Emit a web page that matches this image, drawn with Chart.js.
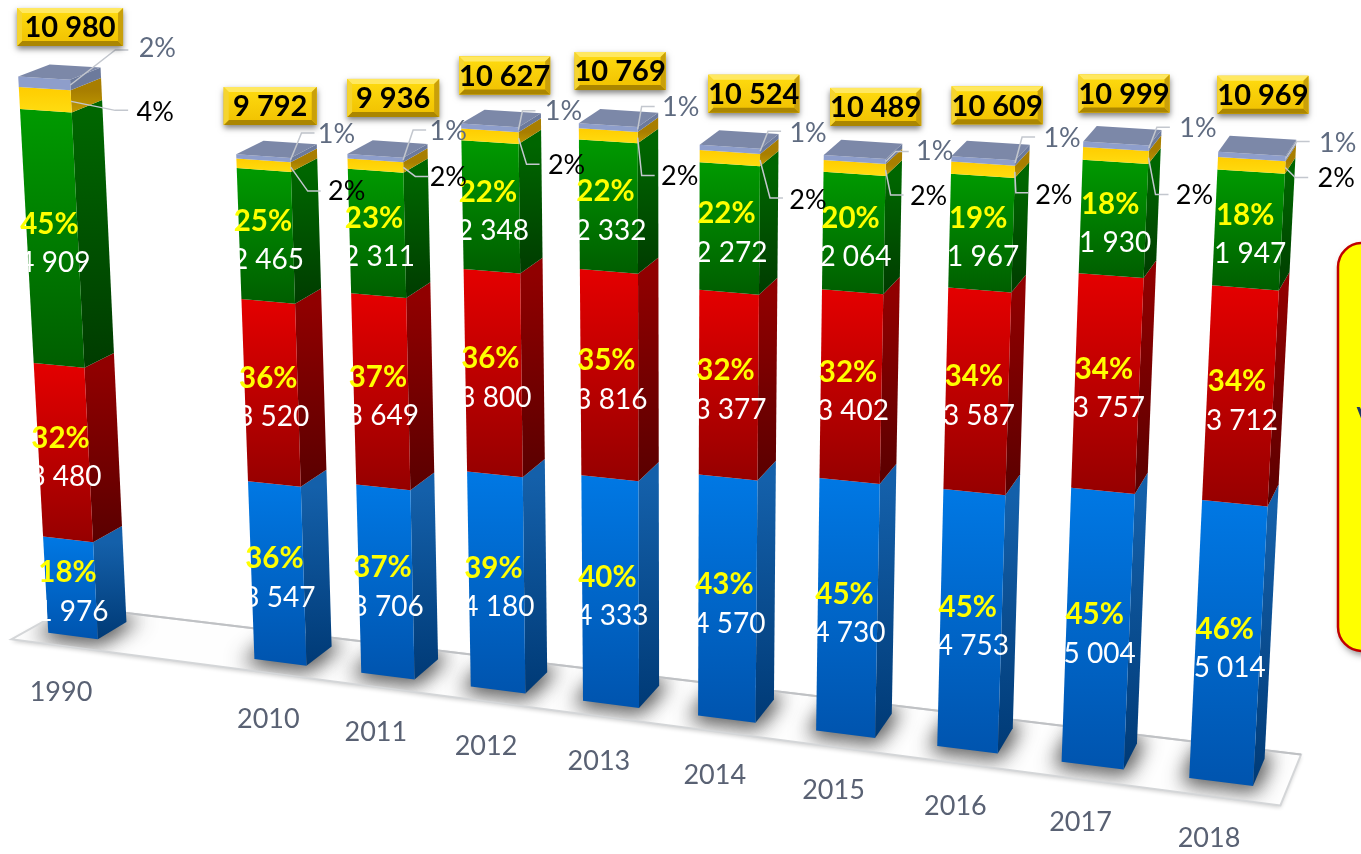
<!DOCTYPE html>
<html>
<head>
<meta charset="utf-8">
<title>Chart</title>
<script src="https://cdn.jsdelivr.net/npm/chart.js@4"></script>
<style>
  html, body { margin: 0; padding: 0; background: #fff; overflow: hidden; }
  canvas { display: block; }
</style>
</head>
<body>
<canvas id="chart" width="1361" height="854"></canvas>
<script>
'use strict';

// the empty category is the gap between 1990 and 2010
const years = ['1990', '', '2010', '2011', '2012', '2013', '2014', '2015', '2016', '2017', '2018'];

const blueValues = [1976, null, 3547, 3706, 4180, 4333, 4570, 4730, 4753, 5004, 5014];
const redValues = [3480, null, 3520, 3649, 3800, 3816, 3377, 3402, 3587, 3757, 3712];
const greenValues = [4909, null, 2465, 2311, 2348, 2332, 2272, 2064, 1967, 1930, 1947];
// not printed on the picture, estimated from the totals and the percent labels
const yellowValues = [415, null, 180, 190, 210, 200, 215, 205, 212, 216, 208];
const greyValues = [200, null, 80, 80, 89, 88, 90, 88, 90, 92, 88];
const totals = [10980, null, 9792, 9936, 10627, 10769, 10524, 10489, 10609, 10999, 10969];

const bluePct = [18, null, 36, 37, 39, 40, 43, 45, 45, 45, 46];
const redPct = [32, null, 36, 37, 36, 35, 32, 32, 34, 34, 34];
const greenPct = [45, null, 25, 23, 22, 22, 22, 20, 19, 18, 18];
const yellowPct = [4, null, 2, 2, 2, 2, 2, 2, 2, 2, 2];
const greyPct = [2, null, 1, 1, 1, 1, 1, 1, 1, 1, 1];

// hand placed label nudges, relative to the bar they belong to
const boxNudge = [[26, -51, 106], null, [7, -50, 93], [18, -58, 92], [15, -50, 91], [12, -54, 91], [24, -53, 91], [21, -50, 91], [14, -53, 91], [8, -50, 91], [11, -59, 91]];
const greyNudge = [[45, -35, 87, -37], null, [11, -27, 46, -26], [10, -30, 45, -29], [4, -19, 45, -18], [4, -23, 43, -22], [8, -20, 48, -18], [10, -10, 49, -10], [7, -26, 47, -25], [8, -21, 49, -20], [11, -17, 52, -15]];
const yellowNudge = [[44, 9, 84, 11], null, [17, 24, 56, 24], [12, 9, 45, 10], [8, 26, 48, 27], [4, 38, 42, 39], [10, 38, 48, 40], [5, 25, 43, 26], [1, 21, 39, 23], [7, 37, 46, 38], [10, 10, 51, 11]];

const FONT = 'Lato, "Open Sans", sans-serif';

// where the front of the first and last bar land on the picture (the 3D view)
const view = {
    bottomLeft: [73, 636], bottomRight: [1221, 782],
    topRight: [1252, 152], topLeft: [44, 77],
    depthBottom: [[29, -17], [12, -27]],
    depthTop: [[31, -12], [11, -16]]
};

const squareToQuad = (p0, p1, p2, p3) => {
    const dx1 = p1[0] - p2[0], dx2 = p3[0] - p2[0], sx = p0[0] - p1[0] + p2[0] - p3[0];
    const dy1 = p1[1] - p2[1], dy2 = p3[1] - p2[1], sy = p0[1] - p1[1] + p2[1] - p3[1];
    const den = dx1 * dy2 - dx2 * dy1;
    const g = (sx * dy2 - dx2 * sy) / den;
    const h = (dx1 * sy - sx * dy1) / den;
    return {
        a: p1[0] - p0[0] + g * p1[0], b: p3[0] - p0[0] + h * p3[0], c: p0[0],
        d: p1[1] - p0[1] + g * p1[1], e: p3[1] - p0[1] + h * p3[1], f: p0[1],
        g, h
    };
};
const H = squareToQuad(view.bottomLeft, view.bottomRight, view.topRight, view.topLeft);

const lerp = (a, b, t) => a + (b - a) * t;

// u: 0 at the first category, 1 at the last. v: 0 at value 0, 1 at the tallest total
const project = (u, v, k = 0) => {
    const w = H.g * u + H.h * v + 1;
    const dx = lerp(lerp(view.depthBottom[0][0], view.depthBottom[1][0], u), lerp(view.depthTop[0][0], view.depthTop[1][0], u), v);
    const dy = lerp(lerp(view.depthBottom[0][1], view.depthBottom[1][1], u), lerp(view.depthTop[0][1], view.depthTop[1][1], u), v);
    return [(H.a * u + H.b * v + H.c) / w + k * dx, (H.d * u + H.e * v + H.f) / w + k * dy];
};

const poly = (ctx, pts) => {
    ctx.beginPath();
    pts.forEach((p, i) => i ? ctx.lineTo(p[0], p[1]) : ctx.moveTo(p[0], p[1]));
    ctx.closePath();
};

const vertical = (ctx, top, bottom, c0, c1) => {
    const g = ctx.createLinearGradient(0, top, 0, bottom);
    g.addColorStop(0, c0);
    g.addColorStop(1, c1);
    return g;
};

const spaced = n => String(n).replace(/\B(?=(\d{3})+$)/g, ' ');

const text = (ctx, str, x, y, font, color) => {
    ctx.font = font;
    ctx.fillStyle = color;
    ctx.textAlign = 'center';
    ctx.textBaseline = 'middle';
    ctx.fillText(str, x, y);
};

const drawBox = (ctx, cx, cy, w, str) => {
    const h = 38, bevel = 5;
    const l = cx - w / 2, t = cy - h / 2, r = cx + w / 2, b = cy + h / 2;
    ctx.save();
    ctx.shadowColor = 'rgba(0,0,0,0.5)';
    ctx.shadowBlur = 6;
    ctx.shadowOffsetY = 3;
    ctx.fillStyle = '#e8b800';
    ctx.fillRect(l, t, w, h);
    ctx.restore();
    ctx.fillStyle = vertical(ctx, t, b, '#ffdc10', '#f0c000');
    ctx.fillRect(l, t, w, h);
    ctx.fillStyle = '#ffe860';
    poly(ctx, [[l, t], [r, t], [r - bevel, t + bevel], [l + bevel, t + bevel]]);
    ctx.fill();
    ctx.fillStyle = '#ab8600';
    poly(ctx, [[l, b], [r, b], [r - bevel, b - bevel], [l + bevel, b - bevel]]);
    ctx.fill();
    ctx.fillStyle = '#f5d430';
    poly(ctx, [[l, t], [l + bevel, t + bevel], [l + bevel, b - bevel], [l, b]]);
    ctx.fill();
    ctx.fillStyle = '#c9a00a';
    poly(ctx, [[r, t], [r - bevel, t + bevel], [r - bevel, b - bevel], [r, b]]);
    ctx.fill();
    text(ctx, str, cx, cy + 1, 'bold 29px ' + FONT, '#000');
};

const leader = (ctx, from, nudge) => {
    const elbow = [from[0] + nudge[0], from[1] + nudge[1]];
    ctx.strokeStyle = '#c3c7ce';
    ctx.lineWidth = 1.5;
    ctx.beginPath();
    ctx.moveTo(from[0], from[1]);
    ctx.lineTo(elbow[0], elbow[1]);
    ctx.lineTo(elbow[0] + 13, elbow[1]);
    ctx.stroke();
};

const perspectivePlugin = {
    id: 'perspective',
    beforeDatasetDraw() {
        return false; // the plugin below paints the bars in perspective
    },
    afterDatasetsDraw(chart) {
        const ctx = chart.ctx;
        const xs = chart.scales.x, ys = chart.scales.y;
        const x0 = xs.getPixelForValue(0), x1 = xs.getPixelForValue(years.length - 1);
        const y0 = ys.getPixelForValue(0), y1 = ys.getPixelForValue(Math.max(...totals));
        const pu = px => (px - x0) / (x1 - x0);
        const pv = py => (py - y0) / (y1 - y0);

        // floor
        const floor = [project(-0.045, 0, -0.55), project(1.05, 0, -0.55), project(1.05, 0, 1.3), project(-0.045, 0, 1.45)];
        ctx.save();
        ctx.shadowColor = 'rgba(0,0,0,0.2)';
        ctx.shadowBlur = 4;
        ctx.shadowOffsetY = 2;
        ctx.fillStyle = '#fefefe';
        poly(ctx, floor);
        ctx.fill();
        ctx.restore();

        // soft shadow around each foot, thrown from off canvas so only the blur lands here
        const baseMeta = chart.getDatasetMeta(0);
        const away = 4000;
        ctx.save();
        poly(ctx, floor);
        ctx.clip();
        ctx.shadowColor = 'rgba(50,50,50,0.8)';
        ctx.shadowBlur = 20;
        ctx.shadowOffsetX = away;
        ctx.fillStyle = '#000';
        ctx.strokeStyle = '#000';
        ctx.lineWidth = 10;
        baseMeta.data.forEach((el, i) => {
            if (blueValues[i] === null) return;
            const uL = pu(el.x - el.width / 2), uR = pu(el.x + el.width / 2);
            const foot = [project(uL, 0), project(uR, 0), project(uR, 0, 1), project(uL, 0, 1)];
            poly(ctx, foot.map(p => [p[0] - away, p[1]]));
            ctx.fill();
            ctx.stroke();
        });
        ctx.restore();

        ctx.strokeStyle = '#d4d6d8';
        ctx.lineWidth = 2;
        poly(ctx, floor);
        ctx.stroke();
        ctx.strokeStyle = '#bfc1c4';
        ctx.beginPath();
        ctx.moveTo(floor[3][0], floor[3][1]);
        ctx.lineTo(floor[2][0], floor[2][1]);
        ctx.stroke();

        // bars, lowest segment first
        chart.data.datasets.forEach((ds, d) => {
            const meta = chart.getDatasetMeta(d);
            const isTop = d === chart.data.datasets.length - 1;
            meta.data.forEach((el, i) => {
                if (ds.data[i] === null) return;
                const uL = pu(el.x - el.width / 2), uR = pu(el.x + el.width / 2);
                const vT = pv(el.y), vB = pv(el.base);
                const fl = project(uL, vT), fr = project(uR, vT);
                const bl = project(uL, vB), br = project(uR, vB);
                ctx.fillStyle = vertical(ctx, fr[1], br[1], ds.sideColors[0], ds.sideColors[1]);
                poly(ctx, [fr, project(uR, vT, 1), project(uR, vB, 1), br]);
                ctx.fill();
                ctx.fillStyle = vertical(ctx, fl[1], br[1], ds.backgroundColor[0], ds.backgroundColor[1]);
                poly(ctx, [fl, fr, br, bl]);
                ctx.fill();
                if (isTop) {
                    ctx.fillStyle = '#7c88a8';
                    poly(ctx, [fl, fr, project(uR, vT, 1), project(uL, vT, 1)]);
                    ctx.fill();
                }
            });
        });

        // labels on the segments
        chart.data.datasets.forEach((ds, d) => {
            if (!ds.pct) return;
            const meta = chart.getDatasetMeta(d);
            meta.data.forEach((el, i) => {
                if (ds.data[i] === null) return;
                const mid = project(pu(el.x), pv((el.y + el.base) / 2));
                text(ctx, ds.pct[i] + '%', mid[0] - 3, mid[1] - 15, 'bold 29.5px ' + FONT, '#ffff00');
                text(ctx, spaced(ds.data[i]), mid[0] + 2, mid[1] + 24, '28px ' + FONT, '#fff');
            });
        });

        // thin segments with a leader line, total boxes and year labels
        const yellowMeta = chart.getDatasetMeta(3), greyMeta = chart.getDatasetMeta(4);
        years.forEach((year, i) => {
            if (totals[i] === null) return;
            const ye = yellowMeta.data[i], gr = greyMeta.data[i];
            const yeAt = project(pu(ye.x + ye.width / 2), pv((ye.y + ye.base) / 2));
            const grAt = project(pu(gr.x + gr.width / 2), pv((gr.y + gr.base) / 2));
            leader(ctx, grAt, greyNudge[i]);
            leader(ctx, yeAt, yellowNudge[i]);
            text(ctx, greyPct[i] + '%', grAt[0] + greyNudge[i][2], grAt[1] + greyNudge[i][3], '27px ' + FONT, '#5f6b80');
            text(ctx, yellowPct[i] + '%', yeAt[0] + yellowNudge[i][2], yeAt[1] + yellowNudge[i][3], '27px ' + FONT, '#000');

            const top = project(pu(gr.x), pv(gr.y));
            drawBox(ctx, top[0] + boxNudge[i][0], top[1] + boxNudge[i][1], boxNudge[i][2], spaced(totals[i]));

            const foot = project(pu(xs.getPixelForValue(i)), 0);
            text(ctx, year, foot[0] - 12, foot[1] + 56.5, '27px ' + FONT, '#596173');
        });

        // yellow note at the right edge, cut off by the picture
        ctx.save();
        ctx.shadowColor = 'rgba(0,0,0,0.45)';
        ctx.shadowBlur = 7;
        ctx.shadowOffsetX = 2;
        ctx.shadowOffsetY = 4;
        ctx.fillStyle = '#ffff00';
        ctx.strokeStyle = '#c00000';
        ctx.lineWidth = 2.5;
        ctx.beginPath();
        ctx.roundRect(1338, 243, 80, 408, 24);
        ctx.fill();
        ctx.shadowColor = 'transparent';
        ctx.stroke();
        ctx.restore();
        text(ctx, 'V', 1365, 417, 'bold 24px ' + FONT, '#1f3864');
    }
};

const makeSet = (data, front, side, pct) => ({
    data: data,
    backgroundColor: front,
    sideColors: side,
    pct: pct,
    stack: 'total'
});

new Chart(document.getElementById('chart').getContext('2d'), {
    type: 'bar',
    data: {
        labels: years,
        datasets: [
            makeSet(blueValues, ['#0078e4', '#0054ae'], ['#1460aa', '#003a76'], bluePct),
            makeSet(redValues, ['#e40000', '#960000'], ['#900000', '#5a0000'], redPct),
            makeSet(greenValues, ['#009a00', '#005e00'], ['#006600', '#003c00'], greenPct),
            makeSet(yellowValues, ['#ffcc00', '#ffdc10'], ['#a87e00', '#c09a00'], null),
            makeSet(greyValues, ['#8e9ecb', '#8e9ecb'], ['#6c7a9c', '#6c7a9c'], null)
        ]
    },
    options: {
        responsive: false,
        animation: false,
        events: [],
        layout: { padding: 0 },
        barPercentage: 0.49,
        categoryPercentage: 1,
        plugins: { legend: { display: false }, title: { display: false }, tooltip: { enabled: false } },
        scales: {
            x: { stacked: true, display: false },
            y: { stacked: true, display: false, min: 0, max: 12000 }
        }
    },
    plugins: [perspectivePlugin]
});
</script>
</body>
</html>
